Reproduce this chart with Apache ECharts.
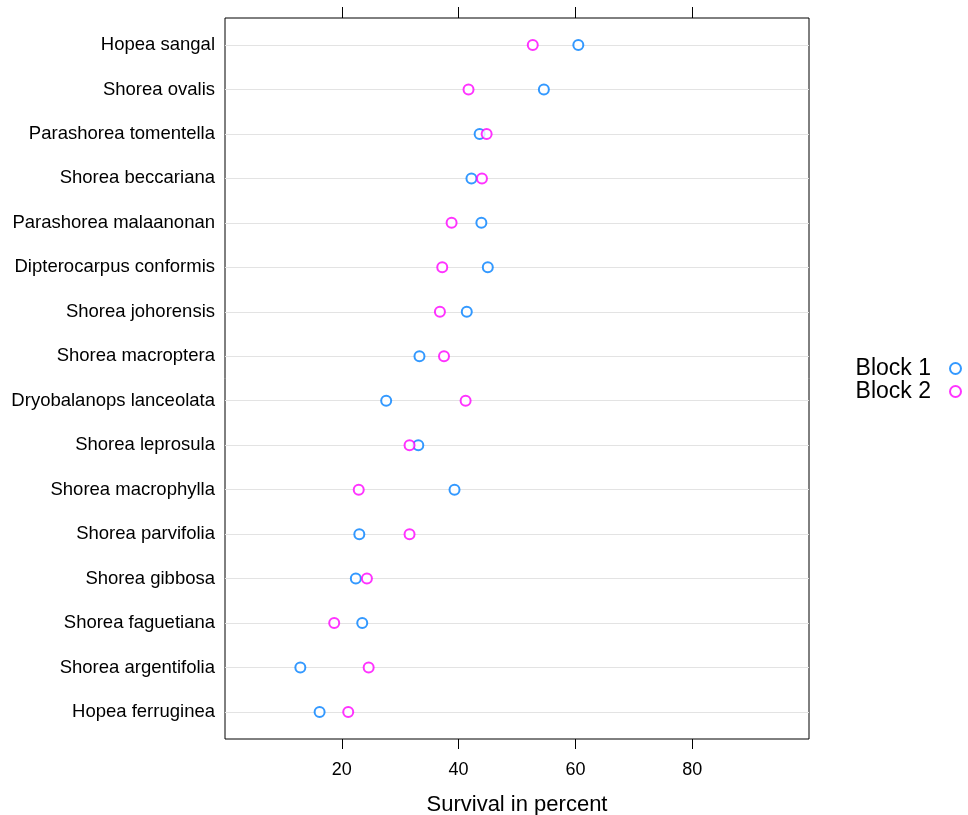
<!DOCTYPE html>
<html><head><meta charset="utf-8">
<script src="https://cdn.jsdelivr.net/npm/echarts@6/dist/echarts.min.js"></script>
<style>html,body{margin:0;padding:0;background:#fff}#c{width:968px;height:815px}</style>
</head><body><div id="c"></div>
<script>
const species = ["Hopea sangal","Shorea ovalis","Parashorea tomentella","Shorea beccariana","Parashorea malaanonan","Dipterocarpus conformis","Shorea johorensis","Shorea macroptera","Dryobalanops lanceolata","Shorea leprosula","Shorea macrophylla","Shorea parvifolia","Shorea gibbosa","Shorea faguetiana","Shorea argentifolia","Hopea ferruginea"];
const block1 = [60.5,54.6,43.6,42.2,43.9,45.0,41.4,33.3,27.6,33.1,39.3,23.0,22.4,23.5,12.9,16.2];
const block2 = [52.7,41.7,44.8,44.0,38.8,37.2,36.8,37.5,41.2,31.6,22.9,31.6,24.3,18.7,24.6,21.1];
const xTicks = [20,40,60,80];
const seriesNames = ["Block 1","Block 2"];

const font = "Liberation Sans, Arial, Helvetica, sans-serif";
const chart = echarts.init(document.getElementById('c'), null, {renderer:'canvas'});
const X_MIN = 0, X_MAX = 100;
chart.setOption({
  animation:false,
  backgroundColor:'#fff',
  grid:[
    {left:225, right:159, top:18, bottom:76, show:true, borderColor:'#000', borderWidth:1,
     backgroundColor:'transparent', containLabel:false, outerBoundsMode:'none'},
    {left:225, right:159, top:45, bottom:103, containLabel:false, outerBoundsMode:'none'}
  ],
  xAxis:[
    {gridIndex:0, type:'value', min:X_MIN, max:X_MAX, interval:20, position:'bottom',
     axisLine:{show:false, onZero:false}, splitLine:{show:false},
     axisTick:{show:true, length:10, lineStyle:{color:'#000', width:1}, customValues:xTicks},
     axisLabel:{margin:22, color:'#000', fontSize:18, fontFamily:font,
       formatter:v=> xTicks.indexOf(v)>=0 ? String(v) : ''},
     name:'Survival in percent', nameLocation:'middle', nameGap:55,
     nameTextStyle:{color:'#000', fontSize:22, fontFamily:font}},
    {gridIndex:0, type:'value', min:X_MIN, max:X_MAX, interval:20, position:'top',
     axisLine:{show:false, onZero:false}, splitLine:{show:false},
     axisTick:{show:true, length:11, lineStyle:{color:'#000'}, customValues:xTicks},
     axisLabel:{show:false}},
    {gridIndex:1, type:'value', min:X_MIN, max:X_MAX, show:false}
  ],
  yAxis:[
    {gridIndex:0, type:'value', min:0, max:1, show:false},
    {gridIndex:1, type:'category', data:species, inverse:true, boundaryGap:false,
     axisLine:{show:false}, axisTick:{show:false},
     splitLine:{show:true, lineStyle:{color:'#e3e3e3', width:1}},
     axisLabel:{color:'#000', fontSize:18.5, fontFamily:font, margin:10}}
  ],
  legend:{
    orient:'vertical', right:1, top:352, align:'right', itemGap:0,
    itemWidth:11, itemHeight:11,
    textStyle:{color:'#000', fontSize:23, lineHeight:23, fontFamily:font, padding:[0,14,0,0]},
    data:seriesNames.map(n=>({name:n, icon:'emptyCircle'}))
  },
  series:[
    {name:seriesNames[0], type:'scatter', xAxisIndex:2, yAxisIndex:1,
     data:block1.map((v,i)=>[v,species[i]]), symbol:'emptyCircle', symbolSize:10,
     itemStyle:{color:'#0080ff', borderColor:'#0080ff', borderWidth:1.5}},
    {name:seriesNames[1], type:'scatter', xAxisIndex:2, yAxisIndex:1,
     data:block2.map((v,i)=>[v,species[i]]), symbol:'emptyCircle', symbolSize:10,
     itemStyle:{color:'#ff00ff', borderColor:'#ff00ff', borderWidth:1.5}}
  ]
});
</script></body></html>
